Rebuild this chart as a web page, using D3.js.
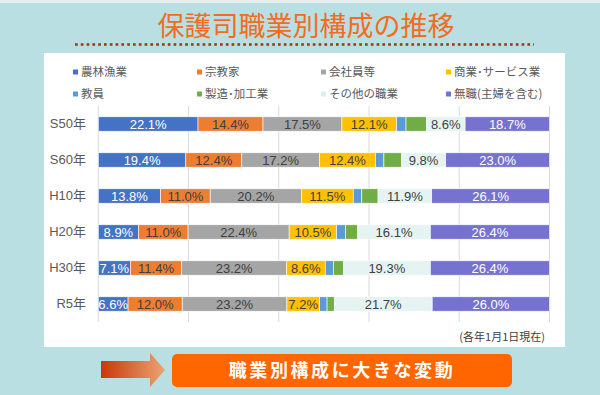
<!DOCTYPE html>
<html>
<head>
<meta charset="utf-8">
<script src="https://cdn.jsdelivr.net/npm/d3@7"></script>
<style>
  body { margin: 0; background: #b9dfe2; }
  svg { display: block; }
</style>
</head>
<body>
<svg id="chart" width="600" height="395"></svg>
<script>
// data (%)
var years = ["S50年", "S60年", "H10年", "H20年", "H30年", "R5年"];
var categories = ["農林漁業", "宗教家", "会社員等", "商業･サービス業", "教員", "製造･加工業", "その他の職業", "無職(主婦を含む)"];
var farming   = [22.1, 19.4, 13.8, 8.9, 7.1, 6.6];
var religious = [14.4, 12.4, 11.0, 11.0, 11.4, 12.0];
var employee  = [17.5, 17.2, 20.2, 22.4, 23.2, 23.2];
var commerce  = [12.1, 12.4, 11.5, 10.5, 8.6, 7.2];
var teacher   = [2.1, 1.9, 1.9, 2.0, 1.8, 1.7];
var making    = [4.5, 3.9, 3.6, 2.7, 2.2, 1.6];
var other     = [8.6, 9.8, 11.9, 16.1, 19.3, 21.7];
var jobless   = [18.7, 23.0, 26.1, 26.4, 26.4, 26.0];
var xTicks = [0, 20, 40, 60, 80, 100];

var colors = ["#4472c4", "#ed7d31", "#a5a5a5", "#ffc000", "#5b9bd5", "#70ad47", "#e6f3f3", "#7672cf"];
var labelColors = ["#fff", "#404040", "#404040", "#404040", null, null, "#404040", "#fff"];

var series = [farming, religious, employee, commerce, teacher, making, other, jobless];
var rows = years.map(function(y, i) {
  var r = { year: y };
  categories.forEach(function(c, k) { r[c] = series[k][i]; });
  return r;
});

var svg = d3.select("#chart");
var cjk = "'Noto Sans CJK JP', sans-serif";
var latin = "'Liberation Sans', Arial, 'Noto Sans CJK JP', sans-serif";

// backdrop
svg.append("rect").attr("width", 600).attr("height", 395).attr("fill", "#b9dfe2");
svg.append("rect").attr("width", 600).attr("height", 3).attr("fill", "#e6eeee");

// title
svg.append("text")
  .attr("x", 306).attr("y", 36)
  .attr("text-anchor", "middle")
  .style("font-family", cjk).style("font-size", "27px")
  .attr("fill", "#f36c21")
  .text("保護司職業別構成の推移");

svg.append("line")
  .attr("x1", 75).attr("x2", 534).attr("y1", 44.5).attr("y2", 44.5)
  .attr("stroke", "#8e3b16").attr("stroke-width", 2.7)
  .attr("stroke-dasharray", "2.7 3.1");

// white panel
svg.append("rect").attr("x", 44).attr("y", 53).attr("width", 521).attr("height", 294).attr("fill", "#fff");

// legend
var legCols = [73, 197, 321, 446], legRows = [72, 94];
var leg = svg.append("g").selectAll("g").data(categories).enter().append("g")
  .attr("transform", function(d, i) { return "translate(" + legCols[i % 4] + "," + legRows[Math.floor(i / 4)] + ")"; });
leg.append("rect").attr("x", 0).attr("y", -2.5).attr("width", 5).attr("height", 5)
  .attr("fill", function(d, i) { return i === 6 ? "#dcefef" : colors[i]; });
leg.append("text").attr("x", 8).attr("dy", "0.36em")
  .style("font-family", cjk).style("font-size", "11.5px").attr("fill", "#595959")
  .text(function(d) { return d; });

// scales
var x = d3.scaleLinear().domain([0, 100]).range([98.3, 549.5]);
var y = d3.scaleBand().domain(years).range([106, 322]).paddingInner(0.6).paddingOuter(0.3);

// gridlines
svg.append("g").selectAll("line").data(xTicks).enter().append("line")
  .attr("x1", function(d) { return x(d); }).attr("x2", function(d) { return x(d); })
  .attr("y1", 106).attr("y2", 322)
  .attr("stroke", "#d9d9d9").attr("stroke-width", 1);

// y axis
var yAxis = svg.append("g").attr("transform", "translate(" + 86 + ",0)")
  .call(d3.axisLeft(y).tickSize(0).tickPadding(0));
yAxis.select(".domain").remove();
yAxis.selectAll("text").style("font-family", latin).style("font-size", "13px").attr("fill", "#595959");

// stacked bars
var stacked = d3.stack().keys(categories)(rows);
var layer = svg.append("g").selectAll("g").data(stacked).enter().append("g")
  .attr("fill", function(d, i) { return colors[i]; });

layer.selectAll("rect").data(function(d) { return d; }).enter().append("rect")
  .attr("x", function(d) { return x(d[0]); })
  .attr("y", function(d) { return y(d.data.year); })
  .attr("width", function(d) { return x(d[1]) - x(d[0]); })
  .attr("height", y.bandwidth())
  .attr("stroke", "#fff").attr("stroke-width", 0.6);

layer.each(function(s, i) {
  if (!labelColors[i]) return;
  d3.select(this).selectAll("text").data(s).enter().append("text")
    .attr("x", function(d) { return (x(d[0]) + x(d[1])) / 2; })
    .attr("y", function(d) { return y(d.data.year) + y.bandwidth() / 2; })
    .attr("dy", "0.36em")
    .attr("text-anchor", "middle")
    .style("font-family", latin).style("font-size", "13px")
    .attr("fill", labelColors[i])
    .text(function(d) { return (d[1] - d[0]).toFixed(1) + "%"; });
});

// note
svg.append("text")
  .attr("x", 545).attr("y", 341).attr("text-anchor", "end")
  .style("font-family", cjk).style("font-size", "11px").attr("fill", "#404040")
  .text("(各年1月1日現在)");

// bottom arrow + banner
var grad = svg.append("defs").append("linearGradient").attr("id", "arrowGrad");
grad.append("stop").attr("offset", "0%").attr("stop-color", "#c9370b");
grad.append("stop").attr("offset", "100%").attr("stop-color", "#eaa473");

svg.append("path")
  .attr("d", "M101,361 L150,361 L150,353 L165,370 L150,387 L150,378 L101,378 Z")
  .attr("fill", "url(#arrowGrad)");

svg.append("rect")
  .attr("x", 172).attr("y", 354).attr("width", 340).attr("height", 33)
  .attr("rx", 5).attr("fill", "#ff6600");

svg.append("text")
  .attr("x", 342).attr("y", 371).attr("dy", "0.35em")
  .attr("text-anchor", "middle")
  .style("font-family", cjk).style("font-size", "18px").style("font-weight", "bold")
  .style("letter-spacing", "2.6px")
  .attr("fill", "#fff")
  .text("職業別構成に大きな変動");
</script>
</body>
</html>
